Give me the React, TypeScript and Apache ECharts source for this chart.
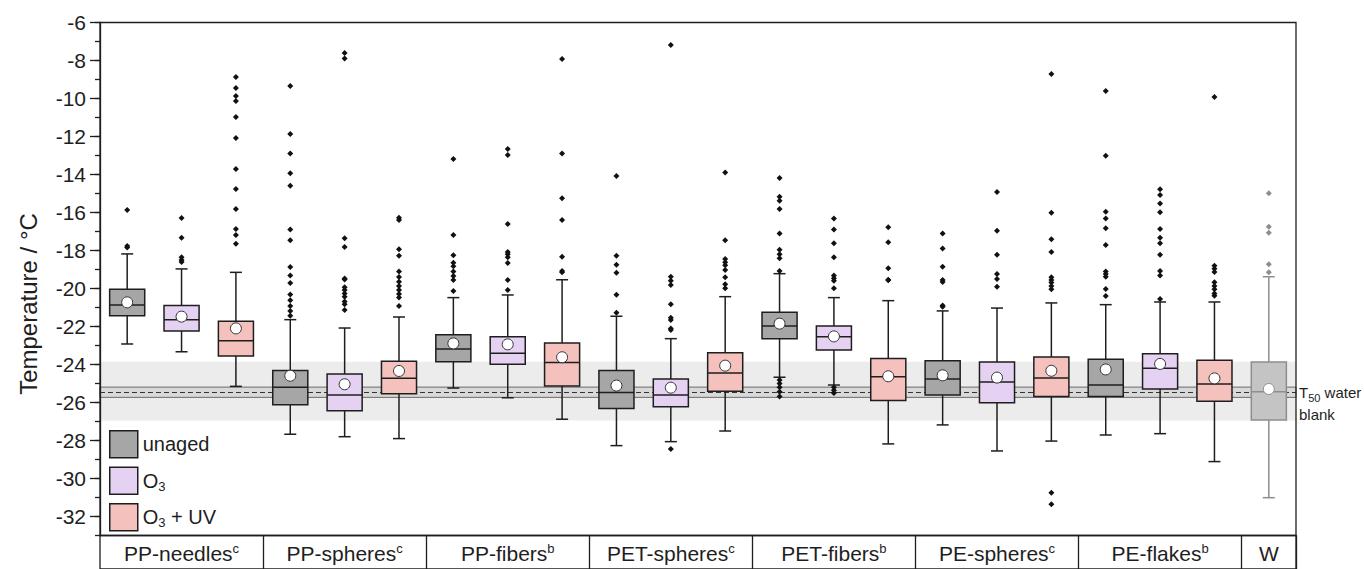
import React, { useEffect, useRef } from "react";
import * as echarts from "echarts";

const FONT = "'Liberation Sans', Arial, Helvetica, sans-serif";

// ---- categories ----
const groupNames = ["PP-needles", "PP-spheres", "PP-fibers", "PET-spheres", "PET-fibers", "PE-spheres", "PE-flakes", "W"];
const groupSup = ["c", "c", "b", "c", "b", "c", "b", ""];
const treatments = ["unaged", "O3", "O3 + UV"];

// slots: 7 groups x 3 treatments + water blank
const slotNames: string[] = [];
groupNames.slice(0, 7).forEach((g) => treatments.forEach((t) => slotNames.push(g + " " + t)));
slotNames.push("W");

// ---- box statistics per slot (°C) ----
const boxLow = [-22.92, -23.33, -25.15, -27.67, -27.8, -27.9, -25.24, -25.75, -26.88, -28.27, -28.06, -27.5, -24.67, -25.08, -28.18, -27.18, -28.55, -28.03, -27.71, -27.64, -29.11, -31.01];
const boxQ1 = [-21.43, -22.24, -23.55, -26.12, -26.43, -25.54, -23.85, -23.99, -25.13, -26.31, -26.22, -25.41, -22.64, -23.24, -25.9, -25.61, -26.01, -25.69, -25.69, -25.29, -25.94, -26.92];
const boxMedian = [-20.87, -21.64, -22.75, -25.2, -25.6, -24.73, -23.18, -23.41, -23.9, -25.48, -25.61, -24.45, -21.97, -22.54, -24.64, -24.76, -24.92, -24.71, -25.08, -24.2, -25.03, -25.43];
const boxQ3 = [-20.04, -20.9, -21.73, -24.31, -24.5, -23.83, -22.43, -22.54, -22.87, -24.31, -24.76, -23.38, -21.25, -21.97, -23.68, -23.8, -23.87, -23.61, -23.73, -23.43, -23.78, -23.87];
const boxHigh = [-18.18, -18.97, -19.15, -21.64, -22.08, -21.5, -20.48, -20.34, -19.54, -21.46, -22.64, -20.43, -19.22, -20.48, -20.64, -21.18, -21.03, -20.76, -20.85, -20.71, -20.71, -19.38];
const boxMean = [-20.73, -21.48, -22.1, -24.59, -25.04, -24.34, -22.89, -22.94, -23.62, -25.11, -25.22, -24.06, -21.85, -22.52, -24.62, -24.57, -24.69, -24.33, -24.26, -23.97, -24.73, -25.29];
const outliers: number[][] = [
  [-15.87, -17.76, -17.84],
  [-16.29, -17.33, -18.36, -18.5, -18.6],
  [-8.87, -9.45, -9.87, -10.13, -10.97, -12.08, -13.71, -14.76, -15.82, -16.87, -17.18, -17.64],
  [-9.34, -11.87, -12.89, -13.94, -14.59, -16.9, -17.46, -18.87, -19.31, -19.71, -20.31, -20.62, -20.92, -21.18, -21.43],
  [-7.6, -7.9, -17.36, -17.82, -19.48, -19.52, -19.94, -20.08, -20.26, -20.43, -20.69, -20.83, -21.13],
  [-16.27, -16.39, -17.94, -18.27, -19.11, -19.39, -19.64, -19.87, -20.08, -20.29, -20.48, -20.92],
  [-13.18, -17.18, -18.25, -18.64, -18.83, -19.1, -19.34, -19.55, -20.13],
  [-12.66, -12.97, -16.61, -18.08, -18.2, -18.36, -18.66, -19.55, -20.08],
  [-7.92, -12.89, -15.25, -16.39, -18.33, -19.08, -19.15],
  [-14.08, -18.27, -18.75, -19.17, -20.33, -21.27],
  [-7.18, -19.38, -19.59, -19.82, -20.83, -21.54, -21.66, -22.1, -22.18, -28.45],
  [-13.89, -17.46, -18.45, -18.62, -18.78, -19.03, -19.41, -19.78, -19.99],
  [-14.18, -15.17, -15.38, -15.82, -17.1, -17.96, -18.2, -18.41, -19.08, -24.82, -25.0, -25.2, -25.43, -25.69],
  [-16.31, -16.89, -17.62, -18.36, -19.32, -19.46, -19.59, -19.99, -25.2, -25.35, -25.5],
  [-16.78, -17.57, -18.94, -19.54, -19.57],
  [-17.1, -17.9, -18.85, -19.55, -19.66, -20.9, -20.96],
  [-14.92, -16.96, -18.22, -19.24, -19.5, -19.91],
  [-8.71, -16.01, -17.41, -18.08, -19.41, -19.55, -19.69, -19.87, -20.04, -30.75, -31.35],
  [-9.6, -13.01, -15.96, -16.31, -16.83, -17.71, -19.11, -19.24, -19.38, -20.03, -20.39],
  [-14.78, -15.08, -15.52, -15.99, -16.87, -17.33, -17.62, -18.22, -19.08, -19.32, -20.55],
  [-9.92, -18.8, -18.96, -19.13, -19.67, -19.87, -20.04, -20.26, -20.38],
  [-14.99, -16.75, -17.06, -18.73, -19.15],
];

// ---- T50 water blank reference ----
const t50Band = [-23.85, -26.95];
const t50Inner = [-25.19, -25.73];
const t50Value = -25.46;

// ---- y axis ----
const yMin = -33;
const yMax = -6;
const yTickValues = [-6, -8, -10, -12, -14, -16, -18, -20, -22, -24, -26, -28, -30, -32];

const treatmentFill = ["#a6a6a6", "#e5d2f3", "#f4c1bd"];
const wFill = "#c4c4c4";
const wStroke = "#8e8e8e";
const ink = "#1e1e1e";
const W_SLOT = slotNames.length - 1;

export default function App() {
  const ref = useRef<HTMLDivElement>(null);

  useEffect(() => {
    if (!ref.current) return;
    const chart = echarts.init(ref.current, undefined, { renderer: "svg" });

    const boxData = slotNames.map((_, s) => [s, boxLow[s], boxQ1[s], boxMedian[s], boxQ3[s], boxHigh[s]]);
    const outBlack: number[][] = [];
    const outGray: number[][] = [];
    outliers.forEach((arr, s) => arr.forEach((v) => (s === W_SLOT ? outGray : outBlack).push([s, v])));
    const meanData = boxMean.map((v, s) => ({
      value: [s, v],
      itemStyle: { borderColor: s === W_SLOT ? wStroke : "#333" },
    }));

    const labelSlots = [1, 4, 7, 10, 13, 16, 19, W_SLOT];
    const groupOfSlot = (i: number) => (i === W_SLOT ? 7 : Math.floor(i / 3));

    const option: any = {
      animation: false,
      textStyle: { fontFamily: FONT },
      grid: [
        { left: 100, right: 68, top: 22.5, bottom: 33.5, show: true, borderColor: ink, borderWidth: 1.3, z: 10 },
        { left: 100, right: 68, top: 535.5, height: 40, show: true, borderColor: ink, borderWidth: 1.3 },
      ],
      legend: {
        orient: "vertical",
        left: 109,
        top: 430,
        padding: 0,
        itemWidth: 28,
        itemHeight: 27,
        itemGap: 8,
        icon: "rect",
        selectedMode: false,
        textStyle: {
          fontFamily: FONT,
          fontSize: 20,
          color: ink,
          lineHeight: 24,
          rich: { sub: { fontFamily: FONT, fontSize: 13, color: ink, verticalAlign: "bottom" } },
        },
        formatter: (name: string) => name.replace("O3", "O{sub|3}"),
        data: treatments.map((t, k) => ({
          name: t,
          itemStyle: { color: treatmentFill[k], borderColor: ink, borderWidth: 1.5 },
        })),
      },
      xAxis: [
        {
          gridIndex: 0,
          type: "category",
          data: slotNames,
          boundaryGap: true,
          axisLine: { show: false },
          axisTick: { show: false },
          axisLabel: { show: false },
          splitLine: { show: false },
        },
        {
          gridIndex: 1,
          type: "category",
          data: slotNames,
          position: "top",
          boundaryGap: true,
          axisLine: { show: false },
          axisTick: { show: false },
          axisLabel: {
            show: true,
            inside: true,
            margin: 6,
            fontFamily: FONT,
            fontSize: 21,
            lineHeight: 24,
            color: ink,
            interval: (i: number) => labelSlots.includes(i),
            formatter: (_v: string, i: number) => {
              const g = groupOfSlot(i);
              return groupSup[g] ? `${groupNames[g]}{sup|${groupSup[g]}}` : groupNames[g];
            },
            rich: { sup: { fontFamily: FONT, fontSize: 13, color: ink, verticalAlign: "top" } },
          },
          splitLine: {
            show: true,
            interval: (i: number) => i > 0 && (i % 3 === 0),
            lineStyle: { color: ink, width: 1.3 },
          },
        },
      ],
      yAxis: [
        {
          gridIndex: 0,
          type: "value",
          min: yMin,
          max: yMax,
          position: "left",
          axisLine: { show: true, lineStyle: { color: ink, width: 1.3 } },
          axisTick: { show: true, customValues: yTickValues, length: 10, lineStyle: { color: ink, width: 1.3 } },
          axisLabel: { customValues: yTickValues, fontFamily: FONT, fontSize: 21, color: ink, margin: 14 },
          splitLine: { show: false },
          name: "Temperature / °C",
          nameLocation: "middle",
          nameGap: 60,
          nameTextStyle: { fontFamily: FONT, fontSize: 24, color: ink, padding: [0, 50, 0, 0] },
        },
        {
          gridIndex: 0,
          type: "value",
          min: yMin,
          max: yMax,
          interval: 1,
          position: "left",
          axisLine: { show: false },
          axisTick: { show: true, length: 5, lineStyle: { color: ink, width: 1.3 } },
          axisLabel: { show: false },
          splitLine: { show: false },
        },
        { gridIndex: 1, type: "value", show: false },
      ],
      series: [
        ...treatments.map((t, k) => ({
          type: "bar",
          name: t,
          data: [],
          xAxisIndex: 0,
          yAxisIndex: 0,
          itemStyle: { color: treatmentFill[k], borderColor: ink, borderWidth: 1.5 },
        })),
        {
          type: "line",
          name: "T50",
          data: [],
          xAxisIndex: 0,
          yAxisIndex: 0,
          z: 0,
          silent: true,
          markArea: {
            silent: true,
            z: 0,
            data: [
              [{ yAxis: t50Band[0], itemStyle: { color: "#ececec" } }, { yAxis: t50Band[1] }],
              [
                { yAxis: t50Inner[0], itemStyle: { color: "#d9d9d9", borderColor: "#6a6a6a", borderWidth: 1 } },
                { yAxis: t50Inner[1] },
              ],
            ],
          },
          markLine: {
            silent: true,
            z: 1,
            symbol: ["none", "none"],
            lineStyle: { color: "#333", width: 1, type: [5, 3] },
            label: {
              show: true,
              position: "end",
              distance: 3,
              formatter: "T{sub|50} water\nblank",
              fontFamily: FONT,
              fontSize: 15,
              lineHeight: 22,
              color: ink,
              padding: [22, 0, 0, 0],
              rich: { sub: { fontFamily: FONT, fontSize: 11, color: ink, verticalAlign: "bottom" } },
            },
            data: [{ yAxis: t50Value }],
          },
        },
        {
          type: "custom",
          name: "boxes",
          xAxisIndex: 0,
          yAxisIndex: 0,
          z: 3,
          encode: { x: 0, y: [1, 2, 3, 4, 5] },
          data: boxData,
          renderItem: (params: any, api: any) => {
            const s = params.dataIndex;
            const x = api.value(0);
            const pLow = api.coord([x, api.value(1)]);
            const pQ1 = api.coord([x, api.value(2)]);
            const pMed = api.coord([x, api.value(3)]);
            const pQ3 = api.coord([x, api.value(4)]);
            const pHigh = api.coord([x, api.value(5)]);
            const band = api.size([1, 0])[0];
            const bw = band * 0.645;
            const cap = 6;
            const cx = pMed[0];
            const isW = s === W_SLOT;
            const stroke = isW ? wStroke : ink;
            const fill = isW ? wFill : treatmentFill[s % 3];
            const ls = { stroke, lineWidth: 1.5 };
            return {
              type: "group",
              children: [
                { type: "line", shape: { x1: cx, y1: pHigh[1], x2: cx, y2: pQ3[1] }, style: ls },
                { type: "line", shape: { x1: cx, y1: pQ1[1], x2: cx, y2: pLow[1] }, style: ls },
                { type: "line", shape: { x1: cx - cap, y1: pHigh[1], x2: cx + cap, y2: pHigh[1] }, style: ls },
                { type: "line", shape: { x1: cx - cap, y1: pLow[1], x2: cx + cap, y2: pLow[1] }, style: ls },
                {
                  type: "rect",
                  shape: { x: cx - bw / 2, y: pQ3[1], width: bw, height: pQ1[1] - pQ3[1] },
                  style: { fill, stroke, lineWidth: 1.5 },
                },
                { type: "line", shape: { x1: cx - bw / 2, y1: pMed[1], x2: cx + bw / 2, y2: pMed[1] }, style: ls },
              ],
            };
          },
        },
        {
          type: "scatter",
          name: "outliers",
          xAxisIndex: 0,
          yAxisIndex: 0,
          z: 4,
          symbol: "diamond",
          symbolSize: 6,
          itemStyle: { color: "#111", opacity: 1 },
          data: outBlack,
        },
        {
          type: "scatter",
          name: "outliersW",
          xAxisIndex: 0,
          yAxisIndex: 0,
          z: 4,
          symbol: "diamond",
          symbolSize: 6,
          itemStyle: { color: "#8e8e8e", opacity: 1 },
          data: outGray,
        },
        {
          type: "scatter",
          name: "mean",
          xAxisIndex: 0,
          yAxisIndex: 0,
          z: 5,
          symbol: "circle",
          symbolSize: 11,
          itemStyle: { color: "#ffffff", borderWidth: 1, opacity: 1 },
          data: meanData,
        },
      ],
    };

    chart.setOption(option);
    return () => chart.dispose();
  }, []);

  return (
    <div
      ref={ref}
      style={{ position: "fixed", left: 0, top: 0, width: 1364, height: 569, background: "#fff" }}
    />
  );
}
